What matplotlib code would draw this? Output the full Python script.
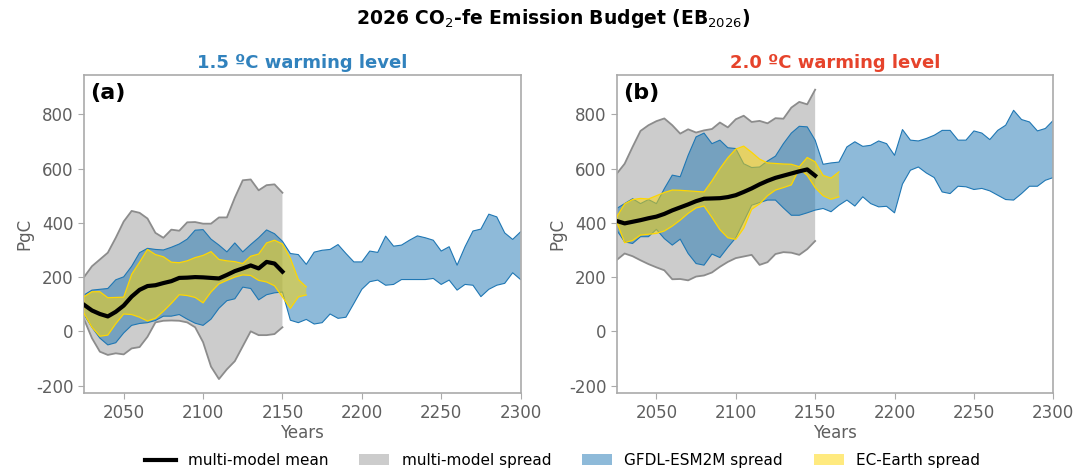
import numpy as np
import matplotlib
matplotlib.use("Agg")
import matplotlib.pyplot as plt

plt.rcParams["axes.unicode_minus"] = False

# years (5-yr steps)
yrs_mm = np.arange(2025, 2151, 5)    # multi-model, to 2150
yrs_ec = np.arange(2025, 2166, 5)    # EC-Earth, to 2165
yrs_gf = np.arange(2025, 2301, 5)    # GFDL-ESM2M, to 2300

# ---- panel (a) 1.5 C ----
mean_a = [98, 77, 64, 55, 72, 95, 128, 153, 167, 170, 178, 185, 197, 198, 200, 199,
          197, 195, 208, 222, 232, 243, 232, 256, 250, 220]
mm_up_a = [200, 240, 265, 290, 345, 405, 444, 437, 416, 363, 345, 375, 371, 402, 403, 397,
           397, 420, 420, 493, 557, 560, 520, 539, 542, 511]
mm_lo_a = [45, -25, -75, -87, -81, -85, -63, -58, -20, 33, 39, 40, 39, 33, 15, -40,
           -130, -176, -140, -110, -55, 0, -14, -14, -10, 15]
gf_up_a = [134, 152, 155, 158, 190, 201, 240, 290, 306, 302, 300, 310, 322, 340, 373, 375,
           340, 318, 293, 326, 293, 320, 345, 374, 360, 332, 287, 283, 247, 292, 299, 302,
           320, 287, 256, 256, 296, 291, 351, 314, 318, 336, 352, 345, 336, 296, 312, 244,
           312, 370, 377, 432, 422, 363, 339, 367]
gf_lo_a = [62, 15, -25, -50, -42, -6, 22, 29, 32, 40, 56, 56, 62, 45, 30, 22,
           45, 85, 113, 120, 163, 158, 116, 135, 142, 145, 41, 32, 44, 27, 32, 64,
           48, 52, 103, 155, 183, 189, 170, 173, 191, 191, 191, 191, 195, 173, 189, 152,
           173, 170, 128, 155, 170, 177, 216, 191]
ec_up_a = [128, 146, 146, 124, 125, 126, 210, 255, 302, 283, 275, 255, 253, 260, 272, 280,
           294, 265, 260, 257, 250, 277, 285, 326, 336, 322, 269, 191, 164]
ec_lo_a = [66, 15, -18, -14, 28, 64, 62, 52, 38, 48, 74, 103, 135, 132, 125, 105,
           145, 175, 188, 200, 208, 206, 188, 182, 168, 127, 85, 127, 134]

# ---- panel (b) 2.0 C ----
mean_b = [407, 398, 404, 410, 417, 423, 433, 446, 457, 468, 480, 489, 490, 491, 495, 502,
          514, 527, 542, 555, 566, 574, 582, 590, 597, 574]
mm_up_b = [581, 618, 680, 739, 760, 775, 785, 760, 729, 745, 733, 741, 746, 770, 752, 782,
           795, 772, 776, 767, 786, 784, 825, 846, 837, 891]
mm_lo_b = [263, 287, 277, 262, 248, 236, 225, 192, 193, 188, 202, 206, 217, 238, 256, 270,
           276, 282, 245, 255, 285, 292, 290, 282, 303, 333]
gf_up_b = [453, 471, 489, 471, 486, 471, 526, 576, 570, 649, 717, 731, 692, 705, 677, 674,
           618, 604, 606, 628, 646, 692, 731, 756, 754, 705, 616, 621, 624, 680, 699, 682,
           686, 702, 692, 649, 744, 705, 702, 711, 723, 741, 741, 705, 705, 739, 731, 707,
           741, 760, 815, 781, 772, 739, 748, 778]
gf_lo_b = [373, 330, 324, 349, 349, 376, 342, 318, 340, 287, 250, 244, 285, 272, 310, 345,
           405, 465, 475, 484, 484, 455, 428, 428, 437, 447, 453, 441, 465, 484, 462, 496,
           471, 459, 461, 437, 543, 594, 606, 584, 567, 514, 508, 535, 533, 523, 527, 518,
           502, 486, 484, 508, 535, 535, 557, 567]
ec_up_b = [422, 470, 486, 490, 488, 500, 512, 521, 520, 518, 516, 514, 555, 600, 640, 672,
           683, 660, 635, 621, 619, 617, 616, 607, 641, 625, 575, 565, 588]
ec_lo_b = [404, 327, 335, 355, 358, 361, 370, 388, 410, 435, 455, 462, 420, 375, 345, 339,
           380, 450, 470, 500, 521, 530, 540, 600, 575, 530, 500, 487, 496]

panels = [
    ("(a)", "1.5 ºC warming level", "#3182bd",
     mean_a, mm_up_a, mm_lo_a, gf_up_a, gf_lo_a, ec_up_a, ec_lo_a),
    ("(b)", "2.0 ºC warming level", "#e6432b",
     mean_b, mm_up_b, mm_lo_b, gf_up_b, gf_lo_b, ec_up_b, ec_lo_b),
]

fig = plt.figure(figsize=(10.78, 4.72), dpi=100)
lefts = [84 / 1078, 616.7 / 1078]
axes = [fig.add_axes([l, 0.167, 0.405, 0.674]) for l in lefts]

spine_c = "#aaaaaa"
txt_c = "#5f5f5f"

for ax, (lab, ttl, tcol, mean, mu, ml, gu, gl, eu, el) in zip(axes, panels):
    ax.fill_between(yrs_mm, ml, mu, facecolor="#cccccc", edgecolor="none", zorder=1)
    ax.plot(yrs_mm, mu, color="#8c8c8c", lw=1.3, zorder=1.1)
    ax.plot(yrs_mm, ml, color="#8c8c8c", lw=1.3, zorder=1.1)

    ax.fill_between(yrs_gf, gl, gu, facecolor=(0.122, 0.467, 0.706, 0.5),
                    edgecolor="none", zorder=2)
    ax.plot(yrs_gf, gu, color="#1f77b4", lw=0.8, zorder=2.1)
    ax.plot(yrs_gf, gl, color="#1f77b4", lw=0.8, zorder=2.1)

    ax.fill_between(yrs_ec, el, eu, facecolor=(1.0, 0.843, 0.0, 0.5),
                    edgecolor="none", zorder=3)
    ax.plot(yrs_ec, eu, color="#ffd700", lw=0.9, zorder=3.1)
    ax.plot(yrs_ec, el, color="#ffd700", lw=0.9, zorder=3.1)

    ax.plot(yrs_mm, mean, color="black", lw=3, zorder=4)

    ax.set_xlim(2025, 2300)
    ax.set_ylim(-228, 945)
    ax.set_xticks([2050, 2100, 2150, 2200, 2250, 2300])
    ax.set_yticks([-200, 0, 200, 400, 600, 800])
    ax.tick_params(colors=txt_c, labelsize=12, length=4, color=spine_c)
    for s in ax.spines.values():
        s.set_color(spine_c)
        s.set_linewidth(1.2)
    ax.set_xlabel("Years", fontsize=12, color=txt_c, labelpad=2)
    ax.set_ylabel("PgC", fontsize=12, color=txt_c, labelpad=2)
    ax.set_title(ttl, fontsize=13, fontweight="bold", color=tcol, pad=5)
    ax.text(0.015, 0.975, lab, transform=ax.transAxes, fontsize=16,
            fontweight="bold", va="top", ha="left")

fig.suptitle("2026 CO$_2$-fe Emission Budget (EB$_{2026}$)", x=0.513, y=0.985,
             fontsize=13.5, fontweight="bold")

h_mean, = axes[0].plot([], [], color="black", lw=3)
h_mm = plt.Rectangle((0, 0), 1, 1, facecolor="#cccccc", edgecolor="none")
h_gf = plt.Rectangle((0, 0), 1, 1, facecolor=(0.122, 0.467, 0.706, 0.5), edgecolor="none")
h_ec = plt.Rectangle((0, 0), 1, 1, facecolor=(1.0, 0.843, 0.0, 0.5), edgecolor="none")
fig.legend([h_mean, h_mm, h_gf, h_ec],
           ["multi-model mean", "multi-model spread", "GFDL-ESM2M spread", "EC-Earth spread"],
           loc="center", bbox_to_anchor=(0.522, 0.024), ncol=4, frameon=False,
           fontsize=11, columnspacing=2.0)

fig.savefig("out.png", dpi=100)
